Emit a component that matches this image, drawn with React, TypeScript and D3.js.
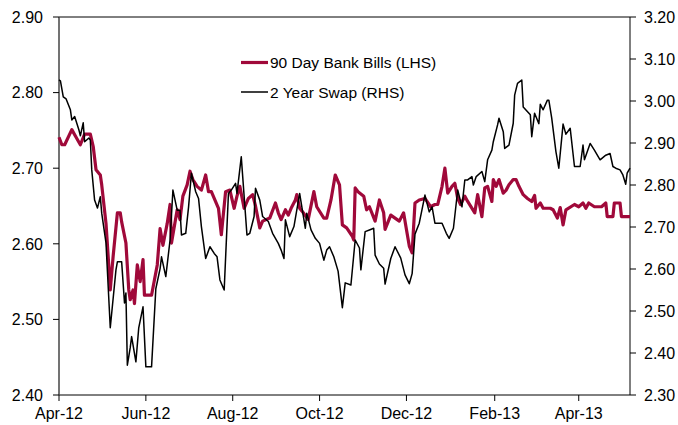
import React from "react";
import * as d3 from "d3";

// Day offsets are days since 1 Apr 2012
const billDays = [0,2,4,9,12,15,18,22,24,26,29,30,33,35,36,38,41,43,44,47,49,50,52,53,55,57,59,60,65,69,71,73,76,78,79,83,85,87,90,92,94,97,100,103,105,107,112,114,117,120,123,125,127,130,133,136,138,141,143,148,152,154,156,159,161,163,166,167,169,172,175,179,181,186,188,191,194,197,199,202,206,207,208,210,214,216,218,222,225,228,229,233,239,242,244,246,248,250,253,257,261,264,266,269,271,273,276,278,280,282,285,287,292,294,297,299,301,304,305,307,309,312,314,316,319,321,323,326,329,332,334,335,338,340,345,347,350,352,354,356,362,365,368,370,372,376,381,384,385,389,390,394,395,401];
const billValues = [2.741,2.731,2.731,2.751,2.741,2.731,2.745,2.745,2.729,2.698,2.691,2.678,2.627,2.570,2.539,2.583,2.641,2.641,2.629,2.601,2.539,2.526,2.539,2.521,2.572,2.550,2.579,2.532,2.532,2.572,2.620,2.598,2.627,2.652,2.601,2.645,2.632,2.663,2.678,2.696,2.685,2.676,2.671,2.691,2.669,2.669,2.647,2.612,2.669,2.671,2.647,2.663,2.676,2.647,2.660,2.665,2.650,2.621,2.630,2.634,2.654,2.641,2.632,2.645,2.638,2.647,2.658,2.665,2.647,2.640,2.632,2.669,2.649,2.634,2.634,2.658,2.691,2.678,2.625,2.621,2.610,2.605,2.674,2.669,2.663,2.645,2.649,2.630,2.658,2.641,2.619,2.638,2.630,2.641,2.619,2.597,2.588,2.654,2.658,2.660,2.649,2.652,2.652,2.676,2.700,2.667,2.676,2.680,2.660,2.652,2.663,2.656,2.641,2.665,2.636,2.674,2.676,2.656,2.685,2.676,2.685,2.667,2.671,2.678,2.685,2.685,2.676,2.665,2.660,2.656,2.664,2.647,2.654,2.647,2.647,2.645,2.634,2.648,2.625,2.645,2.652,2.649,2.654,2.647,2.654,2.649,2.649,2.654,2.636,2.636,2.654,2.654,2.636,2.636];

const swapDays = [0,1,3,5,8,9,11,14,15,17,18,21,22,23,25,27,29,30,33,36,40,41,44,46,47,48,50,51,54,56,59,61,65,68,71,72,75,78,80,83,85,86,89,91,93,96,98,100,103,106,109,111,113,116,119,121,124,125,128,132,134,137,138,141,143,147,150,154,156,158,159,162,165,169,173,174,177,180,183,186,188,190,193,196,199,201,205,208,211,212,215,218,221,222,225,228,229,233,236,240,243,246,248,250,253,257,260,262,264,269,272,274,277,280,283,285,287,290,291,293,297,299,301,304,305,308,309,312,313,316,319,320,322,325,326,331,332,334,337,338,340,343,344,346,349,351,354,356,359,362,366,368,369,373,376,380,384,387,389,391,394,396,398,399,401];
const swapValues = [3.050,3.048,3.010,3.005,2.979,2.955,2.963,2.931,2.917,2.948,2.903,2.912,2.907,2.836,2.764,2.745,2.772,2.733,2.662,2.460,2.598,2.617,2.617,2.519,2.543,2.371,2.412,2.439,2.379,2.460,2.510,2.367,2.367,2.553,2.601,2.629,2.582,2.669,2.788,2.740,2.740,2.681,2.685,2.748,2.828,2.784,2.768,2.701,2.625,2.653,2.637,2.629,2.574,2.550,2.780,2.788,2.804,2.780,2.867,2.681,2.685,2.725,2.792,2.764,2.725,2.713,2.685,2.661,2.645,2.625,2.717,2.677,2.701,2.780,2.697,2.733,2.693,2.673,2.661,2.621,2.645,2.653,2.629,2.595,2.508,2.567,2.562,2.669,2.650,2.598,2.689,2.693,2.697,2.633,2.612,2.602,2.564,2.625,2.653,2.626,2.586,2.565,2.589,2.683,2.709,2.776,2.736,2.748,2.709,2.709,2.685,2.673,2.697,2.788,2.748,2.812,2.812,2.820,2.800,2.820,2.832,2.808,2.860,2.883,2.903,2.943,2.959,2.927,2.887,2.895,2.947,3.014,3.042,3.050,2.986,2.967,2.915,2.971,2.946,2.992,2.979,3.002,3.002,2.960,2.879,2.840,2.945,2.921,2.935,2.844,2.844,2.895,2.860,2.899,2.883,2.860,2.871,2.875,2.844,2.840,2.836,2.824,2.802,2.828,2.840];

const leftTicks = [2.4, 2.5, 2.6, 2.7, 2.8, 2.9];
const rightTicks = [2.3, 2.4, 2.5, 2.6, 2.7, 2.8, 2.9, 3.0, 3.1, 3.2];
const xTickLabels = ["Apr-12", "Jun-12", "Aug-12", "Oct-12", "Dec-12", "Feb-13", "Apr-13"];
const xTickMonths = [[2012, 3], [2012, 5], [2012, 7], [2012, 9], [2012, 11], [2013, 1], [2013, 3]];
const seriesNames = ["90 Day Bank Bills (LHS)", "2 Year Swap (RHS)"];

const START = new Date(2012, 3, 1);
const END = d3.timeDay.offset(START, 401);

const W = 678, H = 425;
const L = 59, R = 630, T = 17, B = 395;
const RED = "#A0093A";
const FONT = "Arial, 'Liberation Sans', sans-serif";

export default function App() {
  const x = d3.scaleTime().domain([START, END]).range([L, R]);
  const yL = d3.scaleLinear().domain([2.4, 2.9]).range([B, T]);
  const yR = d3.scaleLinear().domain([2.3, 3.2]).range([B, T]);

  const bills = billDays.map((d, i) => ({ date: d3.timeDay.offset(START, d), v: billValues[i] }));
  const swap = swapDays.map((d, i) => ({ date: d3.timeDay.offset(START, d), v: swapValues[i] }));

  const billLine = d3.line<any>().x((d) => x(d.date)).y((d) => yL(d.v));
  const swapLine = d3.line<any>().x((d) => x(d.date)).y((d) => yR(d.v));

  const xTicks = xTickMonths.map(([yy, mm]) => new Date(yy, mm, 1));

  return (
    <svg width={W} height={H} style={{ position: "absolute", left: 0, top: 0, background: "#fff" }} fontFamily={FONT}>
      <rect x={0} y={0} width={W} height={H} fill="#fff" />
      {/* frame */}
      <line x1={L} x2={R} y1={T} y2={T} stroke="#000" strokeWidth={1} />
      <line x1={L} x2={R} y1={B} y2={B} stroke="#000" strokeWidth={1} />
      <line x1={L} x2={L} y1={T} y2={B} stroke="#444" strokeWidth={1.5} />
      <line x1={R} x2={R} y1={T} y2={B} stroke="#000" strokeWidth={1} />

      {leftTicks.map((t) => (
        <g key={"l" + t}>
          <line x1={L - 6} x2={L} y1={yL(t)} y2={yL(t)} stroke="#000" />
          <text x={43} y={yL(t)} dy="0.36em" textAnchor="end" fontSize={16} fill="#000">{t.toFixed(2)}</text>
        </g>
      ))}
      {rightTicks.map((t) => (
        <g key={"r" + t}>
          <line x1={R} x2={R + 6} y1={yR(t)} y2={yR(t)} stroke="#000" />
          <text x={644} y={yR(t)} dy="0.36em" textAnchor="start" fontSize={16} fill="#000">{t.toFixed(2)}</text>
        </g>
      ))}
      {xTicks.map((t, i) => (
        <g key={"x" + i}>
          <line x1={x(t)} x2={x(t)} y1={B} y2={B + 6} stroke="#000" />
          <text x={x(t)} y={419} textAnchor="middle" fontSize={16} fill="#000">{xTickLabels[i]}</text>
        </g>
      ))}

      <path d={billLine(bills) || ""} fill="none" stroke={RED} strokeWidth={3.2} strokeLinejoin="round" />
      <path d={swapLine(swap) || ""} fill="none" stroke="#000" strokeWidth={1.5} strokeLinejoin="round" />

      {/* legend */}
      <line x1={241} x2={268} y1={62.5} y2={62.5} stroke={RED} strokeWidth={3.2} />
      <text x={270} y={62.5} dy="0.36em" fontSize={15.5} fill="#000">{seriesNames[0]}</text>
      <line x1={241} x2={268} y1={92} y2={92} stroke="#000" strokeWidth={1.5} />
      <text x={270} y={92} dy="0.36em" fontSize={15.5} fill="#000">{seriesNames[1]}</text>
    </svg>
  );
}
